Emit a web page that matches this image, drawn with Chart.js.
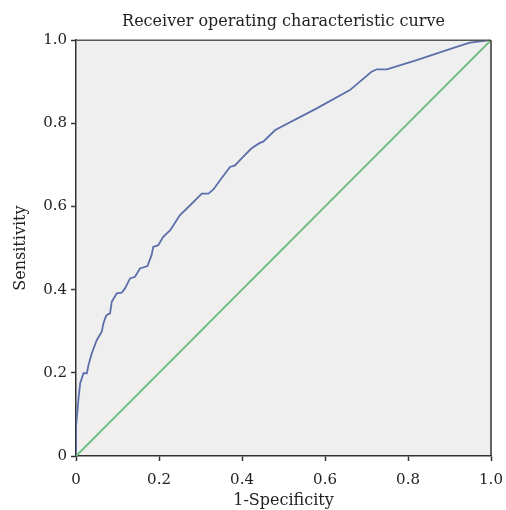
<!DOCTYPE html>
<html>
<head>
<meta charset="utf-8">
<script src="https://cdn.jsdelivr.net/npm/chart.js@4.4.0/dist/chart.umd.min.js"></script>
<style>
html,body{margin:0;padding:0;background:#fff;}
#wrap{width:506px;height:510px;}
</style>
</head>
<body>
<div id="wrap"><canvas id="c" width="506" height="510"></canvas></div>
<script>
const fpr = [0, 0.000, 0.006, 0.010, 0.018, 0.026, 0.030, 0.038, 0.050, 0.062, 0.066, 0.070, 0.074, 0.082, 0.086, 0.098, 0.110, 0.118, 0.130, 0.142, 0.154, 0.172, 0.182, 0.186, 0.198, 0.210, 0.227, 0.250, 0.275, 0.303, 0.319, 0.331, 0.347, 0.371, 0.383, 0.399, 0.423, 0.443, 0.451, 0.480, 0.580, 0.660, 0.712, 0.725, 0.749, 0.821, 0.917, 0.949, 1.000];
const tpr = [0, 0.070, 0.139, 0.175, 0.199, 0.199, 0.219, 0.247, 0.279, 0.299, 0.319, 0.331, 0.339, 0.343, 0.371, 0.391, 0.393, 0.403, 0.427, 0.431, 0.451, 0.457, 0.483, 0.503, 0.507, 0.527, 0.543, 0.579, 0.603, 0.631, 0.631, 0.641, 0.663, 0.695, 0.699, 0.716, 0.740, 0.753, 0.756, 0.784, 0.836, 0.880, 0.924, 0.930, 0.930, 0.952, 0.984, 0.994, 1.000];
const refX = [0, 1];
const refY = [0, 1];
const tickValues = [0, 0.2, 0.4, 0.6, 0.8, 1.0];

const frame = {
  id: 'frame',
  beforeDraw(chart) {
    const {ctx, chartArea: a} = chart;
    ctx.save();
    ctx.fillStyle = '#efefef';
    ctx.fillRect(a.left, a.top, a.right - a.left, a.bottom - a.top);
    ctx.restore();
  },
  afterDraw(chart) {
    const {ctx, chartArea: a} = chart;
    ctx.save();
    ctx.lineWidth = 1.5;
    ctx.strokeStyle = '#555';
    ctx.beginPath(); ctx.moveTo(a.left, a.top); ctx.lineTo(a.right, a.top); ctx.stroke();
    ctx.strokeStyle = '#333';
    ctx.beginPath(); ctx.moveTo(a.right, a.top); ctx.lineTo(a.right, a.bottom); ctx.stroke();
    ctx.restore();
  }
};

const serif = "'DejaVu Serif', 'Liberation Serif', serif";
const axisCommon = {
  type: 'linear', min: 0, max: 1,
  grid: { drawOnChartArea: false, drawTicks: true, tickLength: 5, tickColor: '#333', tickWidth: 1.5 },
  border: { display: true, color: '#333', width: 1.5 },
  afterBuildTicks(axis) { axis.ticks = tickValues.map(v => ({value: v})); },
  ticks: {
    color: '#222', font: { family: serif, size: 15 },
    callback: v => (v === 0 ? '0' : Number(v).toFixed(1)), padding: 4
  }
};

new Chart(document.getElementById('c'), {
  type: 'scatter',
  data: {
    datasets: [
      { data: refX.map((x, i) => ({x, y: refY[i]})), showLine: true, borderColor: '#6dbd7c', borderWidth: 2, pointRadius: 0, tension: 0 },
      { data: fpr.map((x, i) => ({x, y: tpr[i]})), showLine: true, borderColor: '#5d6fab', borderWidth: 1.8, pointRadius: 0, tension: 0 }
    ]
  },
  options: {
    responsive: false, animation: false, devicePixelRatio: 1,
    layout: { padding: { left: 11, right: 15, top: 12, bottom: 0 } },
    plugins: {
      legend: { display: false }, tooltip: { enabled: false },
      title: { display: true, fullSize: false, text: 'Receiver operating characteristic curve', color: '#222',
        font: { family: serif, size: 16, weight: 'normal' }, padding: { top: 0, bottom: 9 } }
    },
    scales: {
      x: Object.assign({}, axisCommon, { position: 'bottom',
        afterFit(scale) { scale.paddingLeft = 0; scale.paddingRight = 0; scale.height = 54; },
        ticks: Object.assign({}, axisCommon.ticks, { padding: 15, font: { family: serif, size: 15, lineHeight: 0.6 } }),
        title: { display: true, text: '1-Specificity', color: '#222', font: { family: serif, size: 16, lineHeight: 1.0 }, padding: { top: 0, bottom: 1 } } }),
      y: Object.assign({}, axisCommon, { position: 'left',
        title: { display: true, text: 'Sensitivity', color: '#222', font: { family: serif, size: 16 }, padding: { top: 0, bottom: 9 } } })
    }
  },
  plugins: [frame]
});
</script>
</body>
</html>
